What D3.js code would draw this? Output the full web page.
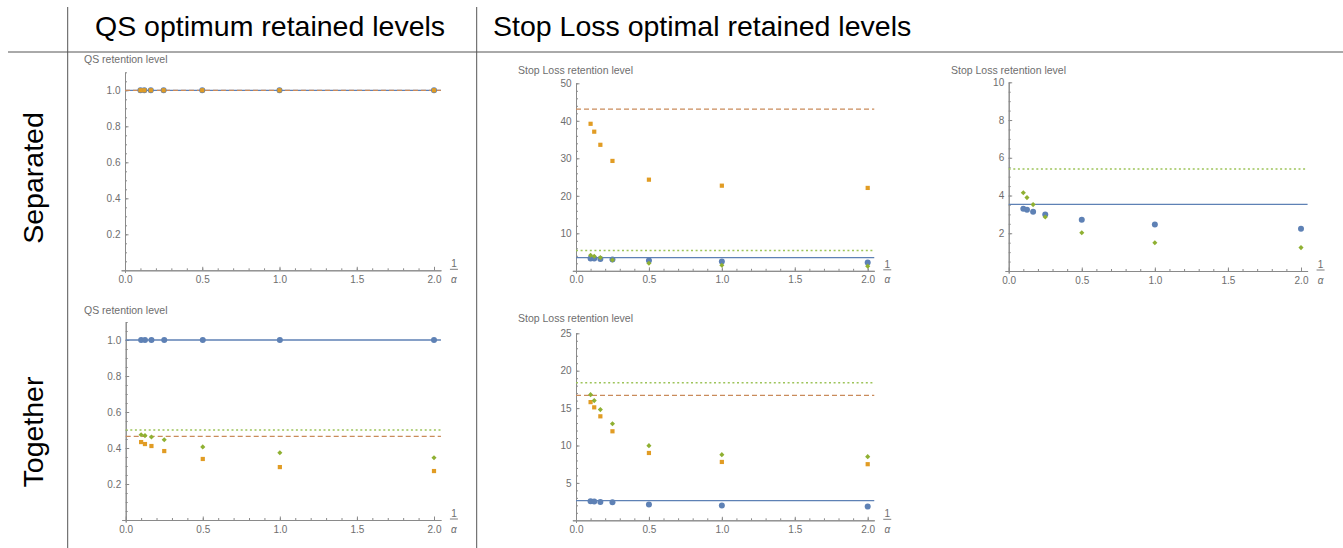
<!DOCTYPE html>
<html>
<head>
<meta charset="utf-8">
<script src="https://cdn.jsdelivr.net/npm/d3@7"></script>
<style>
  html, body { margin: 0; padding: 0; background: #fff; }
  svg { display: block; font-family: "Liberation Sans", Arial, Helvetica, sans-serif; }
</style>
</head>
<body>
<svg id="chart" width="1343" height="548"></svg>
<script>
// ---------------- DATA ----------------
const colTitles = ["QS optimum retained levels", "Stop Loss optimal retained levels"];
const rowTitles = ["Separated", "Together"];
const xVals = [0.1, 0.125, 0.167, 0.25, 0.5, 1, 2];      // 1/alpha
const xMajorTicks = [0, 0.5, 1, 1.5, 2];
const xTickLabels = ["0.0", "0.5", "1.0", "1.5", "2.0"];

// QS, separated
const qsSepBlue   = [1, 1, 1, 1, 1, 1, 1];
const qsSepOrange = [1, 1, 1, 1, 1, 1, 1];
const qsSepBlueLine = 1.0;
const qsSepOrangeLine = 1.0;

// Stop Loss, separated
const slSepBlue   = [3.30, 3.25, 3.14, 2.99, 2.72, 2.46, 2.24];
const slSepOrange = [39.2, 37.1, 33.6, 29.3, 24.3, 22.7, 22.1];
const slSepGreen  = [4.15, 3.89, 3.52, 2.86, 2.03, 1.50, 1.24];
const slSepBlueLine = 3.53;
const slSepOrangeLine = 43.1;
const slSepGreenLine = 5.41;

// QS, together
const qsTogBlue   = [1, 1, 1, 1, 1, 1, 1];
const qsTogOrange = [0.433, 0.422, 0.411, 0.383, 0.339, 0.294, 0.272];
const qsTogGreen  = [0.474, 0.469, 0.461, 0.446, 0.406, 0.374, 0.346];
const qsTogBlueLine = 1.0;
const qsTogOrangeLine = 0.465;
const qsTogGreenLine = 0.500;

// Stop Loss, together
const slTogBlue   = [2.55, 2.53, 2.45, 2.40, 2.10, 1.97, 1.83];
const slTogOrange = [15.8, 15.1, 13.9, 11.9, 9.0, 7.8, 7.5];
const slTogGreen  = [16.8, 16.0, 14.8, 12.9, 9.98, 8.78, 8.51];
const slTogBlueLine = 2.63;
const slTogOrangeLine = 16.7;
const slTogGreenLine = 18.4;

const qsYLabel = "QS retention level";
const slYLabel = "Stop Loss retention level";

// ---------------- STYLE ----------------
const C = {
  blue: "#5e81b5",
  orange: "#e19c24",
  orangeLine: "#c98b5b",
  green: "#8fb032",
  greenLine: "#9dc45a",
  axis: "#8a8a8a",
  tick: "#6e6e6e",
  frame: "#555555"
};

// ---------------- LAYOUT ----------------
const panels = [
  { px0: 125,   px2: 434,   py0: 270.3, pyTop: 72.3,  yMax: 1.1, yMajor: 0.2, yMinor: 0.05, yFmt: ".1f",
    label: qsYLabel, labelX: 84, labelY: 59,
    blue: qsSepBlue, orange: qsSepOrange, green: null,
    lines: [[qsSepBlueLine, "blue"], [qsSepOrangeLine, "orange"]] },
  { px0: 576,   px2: 867.7, py0: 270.8, pyTop: 83.3,  yMax: 50, yMajor: 10, yMinor: 2, yFmt: "d",
    label: slYLabel, labelX: 518, labelY: 70,
    blue: slSepBlue, orange: slSepOrange, green: slSepGreen,
    lines: [[slSepBlueLine, "blue"], [slSepOrangeLine, "orange"], [slSepGreenLine, "green"]] },
  { px0: 1008.7,px2: 1301,  py0: 271,   pyTop: 82.3,  yMax: 10, yMajor: 2, yMinor: 0.5, yFmt: "d",
    label: slYLabel, labelX: 951, labelY: 70,
    blue: slSepBlue, orange: slSepOrange, green: slSepGreen,
    lines: [[slSepBlueLine, "blue"], [slSepOrangeLine, "orange"], [slSepGreenLine, "green"]] },
  { px0: 125.7, px2: 434,   py0: 520,   pyTop: 322,   yMax: 1.1, yMajor: 0.2, yMinor: 0.05, yFmt: ".1f",
    label: qsYLabel, labelX: 84, labelY: 310,
    blue: qsTogBlue, orange: qsTogOrange, green: qsTogGreen,
    lines: [[qsTogBlueLine, "blue"], [qsTogOrangeLine, "orange"], [qsTogGreenLine, "green"]] },
  { px0: 576,   px2: 867.7, py0: 520.3, pyTop: 333.3, yMax: 25, yMajor: 5, yMinor: 1, yFmt: "d",
    label: slYLabel, labelX: 518, labelY: 318,
    blue: slTogBlue, orange: slTogOrange, green: slTogGreen,
    lines: [[slTogBlueLine, "blue"], [slTogOrangeLine, "orange"], [slTogGreenLine, "green"]] }
];

const svg = d3.select("#chart");

// ---------------- FRAME ----------------
svg.append("line").attr("x1", 67.7).attr("x2", 67.7).attr("y1", 7).attr("y2", 548)
  .attr("stroke", C.frame).attr("stroke-width", 1);
svg.append("line").attr("x1", 476.7).attr("x2", 476.7).attr("y1", 7).attr("y2", 548)
  .attr("stroke", C.frame).attr("stroke-width", 1);
svg.append("line").attr("x1", 8).attr("x2", 1343).attr("y1", 52).attr("y2", 52)
  .attr("stroke", C.frame).attr("stroke-width", 1);

svg.append("text").attr("x", 95).attr("y", 36).attr("font-size", 28.5).attr("fill", "#000")
  .text(colTitles[0]);
svg.append("text").attr("x", 493).attr("y", 36).attr("font-size", 28.5).attr("fill", "#000")
  .text(colTitles[1]);
svg.append("text").attr("transform", "translate(43,178) rotate(-90)").attr("text-anchor", "middle")
  .attr("font-size", 28.5).attr("fill", "#000").text(rowTitles[0]);
svg.append("text").attr("transform", "translate(43,432) rotate(-90)").attr("text-anchor", "middle")
  .attr("font-size", 28.5).attr("fill", "#000").text(rowTitles[1]);

// ---------------- PANELS ----------------
panels.forEach((p, i) => {
  const kx = (p.px2 - p.px0) / 2;
  const ky = (p.py0 - p.pyTop) / p.yMax;
  const xMin = -0.025, xMax = 2.045;
  const yMin = -2 / ky;
  const x = d3.scaleLinear().domain([xMin, xMax]).range([p.px0 + xMin * kx, p.px0 + xMax * kx]);
  const y = d3.scaleLinear().domain([yMin, p.yMax]).range([p.py0 + 2, p.pyTop]);

  const g = svg.append("g");

  // clip
  const cid = "clip" + i;
  g.append("clipPath").attr("id", cid).append("rect")
    .attr("x", x(0) - 4).attr("y", y(p.yMax) - 1)
    .attr("width", x(xMax) - x(0) + 8).attr("height", y(0) - y(p.yMax) + 5);

  // axes
  const yMajors = d3.range(p.yMajor, p.yMax + 1e-9, p.yMajor).map(v => +v.toFixed(6));
  const yMinors = d3.range(p.yMinor, p.yMax + 1e-9, p.yMinor).map(v => +v.toFixed(6));
  const xMinors = d3.range(0.1, 2.0001, 0.1).map(v => +v.toFixed(6));

  const styleAxis = sel => {
    sel.selectAll("path.domain").attr("stroke", C.axis).attr("stroke-width", 1);
    sel.selectAll(".tick line").attr("stroke", C.axis).attr("stroke-width", 1);
    sel.selectAll(".tick text").attr("fill", C.tick).attr("font-size", 10)
      .attr("font-family", '"Liberation Sans", Arial, sans-serif');
  };

  // x minor
  g.append("g").attr("transform", `translate(0,${y(0)})`)
    .call(d3.axisBottom(x).tickValues(xMinors).tickSize(-2).tickSizeOuter(0).tickFormat(""))
    .call(styleAxis);
  // x major
  g.append("g").attr("transform", `translate(0,${y(0)})`)
    .call(d3.axisBottom(x).tickValues(xMajorTicks).tickSize(-3.5).tickSizeOuter(0).tickPadding(5)
      .tickFormat((d, j) => xTickLabels[j]))
    .call(styleAxis)
    .call(s => s.selectAll(".tick text").attr("dy", "0.71em").attr("y", 5.5));

  // y minor
  g.append("g").attr("transform", `translate(${x(0)},0)`)
    .call(d3.axisLeft(y).tickValues(yMinors).tickSize(-2).tickSizeOuter(0).tickFormat(""))
    .call(styleAxis);
  // y major
  g.append("g").attr("transform", `translate(${x(0)},0)`)
    .call(d3.axisLeft(y).tickValues(yMajors).tickSize(-3.5).tickSizeOuter(0).tickPadding(4.5)
      .tickFormat(d3.format(p.yFmt)))
    .call(styleAxis);

  // y label
  g.append("text").attr("x", p.labelX).attr("y", p.labelY).attr("dy", "0.35em")
    .attr("font-size", 10.5).attr("fill", C.tick).text(p.label);

  // 1/alpha label
  const fx = x(xMax) + 13, fy = y(0);
  g.append("text").attr("x", fx).attr("y", fy - 3).attr("text-anchor", "middle")
    .attr("font-size", 10).attr("fill", C.tick).text("1");
  g.append("line").attr("x1", fx - 4).attr("x2", fx + 4).attr("y1", fy - 1).attr("y2", fy - 1)
    .attr("stroke", C.tick).attr("stroke-width", 0.9);
  g.append("text").attr("x", fx).attr("y", fy + 12.5).attr("text-anchor", "middle")
    .attr("font-size", 10).attr("font-style", "italic").attr("fill", C.tick).text("α");

  const plot = g.append("g").attr("clip-path", `url(#${cid})`);

  // horizontal reference lines
  p.lines.forEach(([v, kind]) => {
    const ln = plot.append("line")
      .attr("x1", x(0)).attr("x2", x(xMax))
      .attr("y1", y(v)).attr("y2", y(v));
    if (kind === "blue") ln.attr("stroke", C.blue).attr("stroke-width", 1.3);
    if (kind === "orange") ln.attr("stroke", C.orangeLine).attr("stroke-width", 1.3).attr("stroke-dasharray", "5,3");
    if (kind === "green") ln.attr("stroke", C.greenLine).attr("stroke-width", 1.5).attr("stroke-dasharray", "2,2.6");
  });

  // points
  if (p.blue) {
    plot.selectAll(null).data(p.blue.map((v, j) => [xVals[j], v])).join("circle")
      .attr("cx", d => x(d[0])).attr("cy", d => y(d[1])).attr("r", 3).attr("fill", C.blue);
  }
  if (p.orange) {
    plot.selectAll(null).data(p.orange.map((v, j) => [xVals[j], v])).join("rect")
      .attr("x", d => x(d[0]) - 2.1).attr("y", d => y(d[1]) - 2.1)
      .attr("width", 4.2).attr("height", 4.2).attr("fill", C.orange);
  }
  if (p.green) {
    const dia = d3.symbol().type(d3.symbolSquare).size(13);
    plot.selectAll(null).data(p.green.map((v, j) => [xVals[j], v])).join("path")
      .attr("d", dia)
      .attr("transform", d => `translate(${x(d[0])},${y(d[1])}) rotate(45)`)
      .attr("fill", C.green);
  }
});
</script>
</body>
</html>
